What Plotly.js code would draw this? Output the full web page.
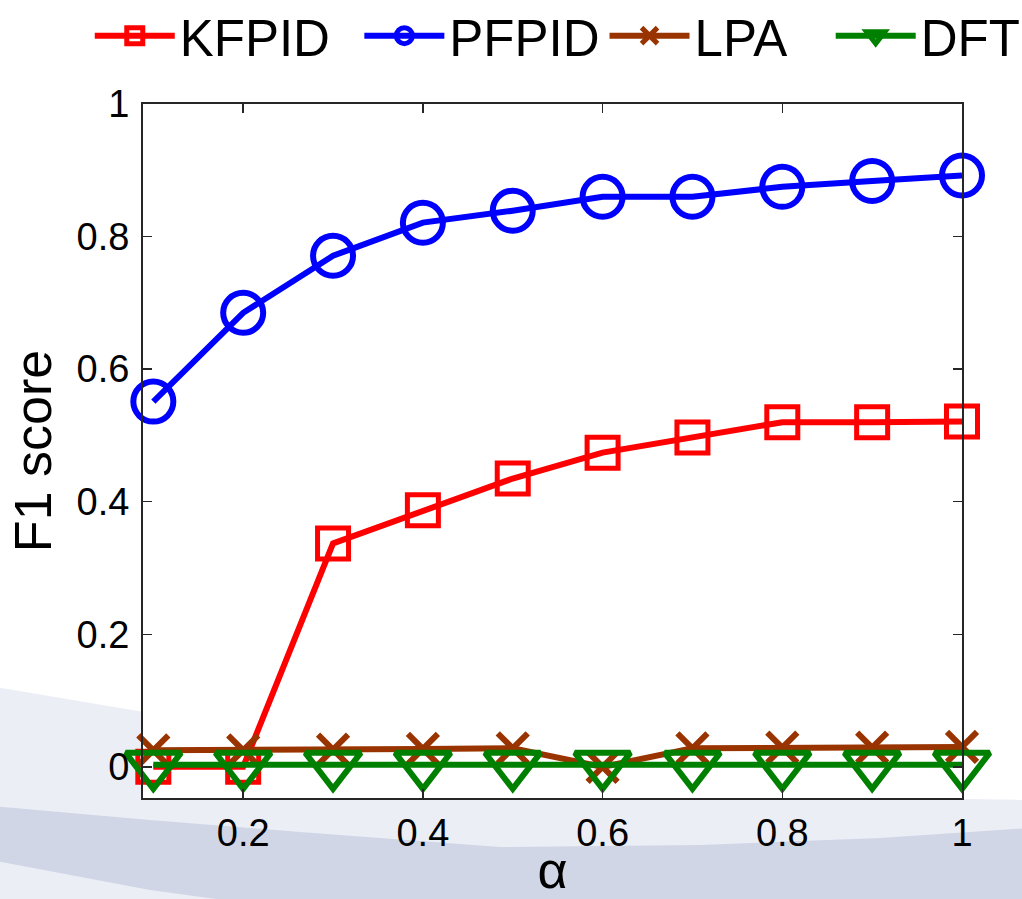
<!DOCTYPE html>
<html>
<head>
<meta charset="utf-8">
<script src="https://cdn.plot.ly/plotly-3.0.1.min.js"></script>
<style>html,body{margin:0;padding:0;background:#fff;}#chart{width:1022px;height:899px;}</style>
</head>
<body>
<div id="chart"></div>
<script>
const alpha = [0.1, 0.2, 0.3, 0.4, 0.5, 0.6, 0.7, 0.8, 0.9, 1.0];
const kfpid = [0.0, 0.0, 0.337, 0.387, 0.435, 0.474, 0.497, 0.520, 0.520, 0.521];
const pfpid = [0.551, 0.685, 0.771, 0.821, 0.839, 0.860, 0.860, 0.875, 0.884, 0.892];
const lpa   = [0.025, 0.025, 0.026, 0.027, 0.028, 0.0, 0.028, 0.029, 0.029, 0.030];
const dft   = [0.003, 0.003, 0.003, 0.003, 0.003, 0.003, 0.003, 0.003, 0.003, 0.003];
const seriesNames = ['KFPID', 'PFPID', 'LPA', 'DFT'];
const xTicks = [0.2, 0.4, 0.6, 0.8, 1];
const xTickText = ['0.2', '0.4', '0.6', '0.8', '1'];
const yTicks = [0, 0.2, 0.4, 0.6, 0.8, 1];
const yTickText = ['0', '0.2', '0.4', '0.6', '0.8', '1'];

const W = 1022, H = 899, L = 143, R = 60, T = 104, B = 101;
const pw = W - L - R, ph = H - T - B;
function px(x){ return ((x - L) / pw).toFixed(4); }
function py(y){ return (1 - (y - T) / ph).toFixed(4); }
function path(pts){ return 'M' + pts.map(p => px(p[0]) + ',' + py(p[1])).join(' L') + ' Z'; }

const bandA = [[-10,686],[150,713],[300,738],[500,770],[700,790],[900,798],[1030,800],[1030,905],[-10,905]];
const bandB = [[-10,806],[150,820],[300,832],[500,847],[700,845],[880,838],[1030,828],[1030,905],[260,905],[150,890],[-10,860]];

const shapes = [
  {type:'path', xref:'paper', yref:'paper', path: path(bandA), fillcolor:'#EBEEF5', line:{width:0}, layer:'below'},
  {type:'path', xref:'paper', yref:'paper', path: path(bandB), fillcolor:'#D1D6E6', line:{width:0}, layer:'below'},
  {type:'rect', xref:'paper', yref:'paper', x0:0, x1:1, y0:0, y1:1, fillcolor:'#ffffff', line:{width:0}, layer:'below'}
];

// spacing characters pad legend entries to mimic the reference spacing
const pad = ['\u00A0\u2009', '', '\u00A0\u00A0\u2009', ''];

const traces = [
  {x: alpha, y: kfpid, name: seriesNames[0] + pad[0], mode: 'lines+markers', cliponaxis: false,
   line: {color: '#FF0000', width: 6},
   marker: {symbol: 'square-open', size: 31, color: '#FF0000', line: {width: 5, color: '#FF0000'}}},
  {x: alpha, y: pfpid, name: seriesNames[1] + pad[1], mode: 'lines+markers', cliponaxis: false,
   line: {color: '#0000FF', width: 6},
   marker: {symbol: 'circle-open', size: 40, color: '#0000FF', line: {width: 6, color: '#0000FF'}}},
  {x: alpha, y: lpa, name: seriesNames[2] + pad[2], mode: 'lines+markers', cliponaxis: false,
   line: {color: '#993300', width: 6},
   marker: {symbol: 'x-thin-open', size: 30, color: '#993300', line: {width: 6, color: '#993300'}}},
  {x: alpha, y: dft, name: seriesNames[3] + pad[3], mode: 'lines+markers', cliponaxis: false,
   line: {color: '#008000', width: 6},
   marker: {symbol: 'triangle-down-open', size: 48, color: '#008000', line: {width: 6, color: '#008000'}}}
];

const axisCommon = {
  showline: true, linecolor: '#262626', linewidth: 2, mirror: 'ticks',
  ticks: 'inside', ticklen: 9, tickwidth: 1.5, tickcolor: '#262626',
  showgrid: false, zeroline: false,
  tickfont: {family: 'Liberation Sans, Arial, sans-serif', size: 38, color: '#000'}
};

const layout = {
  width: W, height: H,
  margin: {l: L, r: R, t: T, b: B, pad: 0, autoexpand: false},
  paper_bgcolor: '#ffffff', plot_bgcolor: 'rgba(0,0,0,0)',
  showlegend: true,
  legend: {orientation: 'h', x: -0.065, xanchor: 'left', y: 1.098, yanchor: 'middle',
           font: {family: 'Liberation Sans, Arial, sans-serif', size: 51, color: '#000'},
           bgcolor: 'rgba(0,0,0,0)', itemwidth: 80, tracegroupgap: 0},
  xaxis: Object.assign({}, axisCommon, {
    range: [0.0885, 1], tickvals: xTicks, ticktext: xTickText,
    title: {text: 'α', font: {family: 'Liberation Sans, Arial, sans-serif', size: 52, color: '#000'}, standoff: 6}
  }),
  yaxis: Object.assign({}, axisCommon, {
    range: [-0.047, 1], tickvals: yTicks, ticktext: yTickText, ticklabelstandoff: 4,
    title: {text: 'F1 score', font: {family: 'Liberation Sans, Arial, sans-serif', size: 52, color: '#000'}, standoff: 8}
  }),
  shapes: shapes
};

Plotly.newPlot('chart', traces, layout, {displayModeBar: false, staticPlot: true});
</script>
</body>
</html>
